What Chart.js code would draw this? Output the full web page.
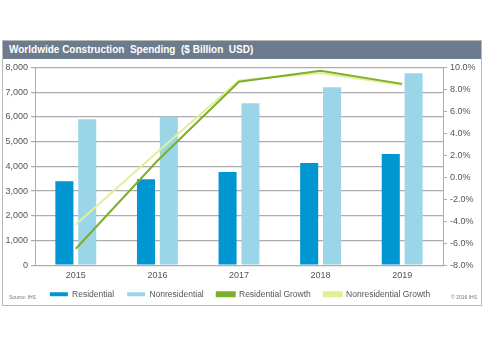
<!DOCTYPE html>
<html>
<head>
<meta charset="utf-8">
<script src="https://cdn.jsdelivr.net/npm/chart.js@4"></script>
<style>
	body { margin: 0; background: #fff; font-family: Arial, "Liberation Sans", sans-serif; }
	#frame { position: absolute; left: 2px; top: 40px; width: 478px; height: 264px; border: 1px solid #b8b8b8; }
	#title { height: 18px; background: #6c7b8d; color: #fff; font-weight: bold; font-size: 10px; line-height: 18px; padding-left: 6px; }
	#wrap { position: relative; width: 478px; height: 246px; }
	.foot { position: absolute; top: 253px; font-size: 5px; color: #777; }
</style>
</head>
<body>
<div id="frame">
	<div id="title">Worldwide Construction&nbsp; Spending&nbsp; ($ Billion&nbsp; USD)</div>
	<div id="wrap"><canvas id="spend-viz"></canvas></div>
	<div class="foot" style="left:6px;">Source: IHS</div>
	<div class="foot" style="right:4px;">© 2016 IHS</div>
</div>
<script>
// values
var years = [ '2015', '2016', '2017', '2018', '2019' ];
var residential    = [ 3400, 3480, 3770, 4130, 4500 ];
var nonresidential = [ 5900, 6000, 6550, 7200, 7760 ];
var res_growth     = [ -6.5, 1.5, 8.7, 9.7, 8.5 ];
var nonres_growth  = [ -4.3, 2.3, 8.8, 9.5, 8.4 ];

var left_ticks  = { min: 0,  max: 8000, step: 1000 };
var right_ticks = { min: -8, max: 10,   step: 2 };

var gridColor = '#adadad';
var txtColor = '#555';
Chart.defaults.font.family = 'Arial, "Liberation Sans", sans-serif';
Chart.defaults.font.size = 9;
Chart.defaults.color = txtColor;

var legendPad = 13;

function make_bar(label, color, data) {
	return { type: 'bar', label: label, backgroundColor: color, borderWidth: 0,
	         data: data, yAxisID: 'y', order: 1,
	         categoryPercentage: 0.56, barPercentage: 0.79 };
}
function make_line(label, color, data) {
	return { type: 'line', label: label, borderColor: color, backgroundColor: color,
	         borderWidth: 2, pointRadius: 0, tension: 0, fill: false,
	         data: data, yAxisID: 'y1', order: 0 };
}

// short legend strip with wide gaps between items, like the original
var legendHeight = {
	id: 'legendHeight',
	beforeInit: function(chart) {
		var origFit = chart.legend.fit;
		chart.legend.fit = function() {
			origFit.call(this);
			this.height = 18;
		};
	},
	afterLayout: function(chart) {
		// move only the top up, so the legend's clip box still holds the text
		chart.legend.top -= (legendPad - 4);
	}
};

var ctx = document.getElementById('spend-viz');
var cfg = {
	data: {
		labels: years,
		datasets: [
			make_bar('Residential', '#0096d1', residential),
			make_bar('Nonresidential', '#9bd5e8', nonresidential),
			make_line('Residential Growth', '#7cb02c', res_growth),
			make_line('Nonresidential Growth', '#e2ef96', nonres_growth)
		]
	},
	options: {
		responsive: true,
		maintainAspectRatio: false,
		animation: false,
		layout: { padding: { left: 0, right: 4, top: 5, bottom: 1 } },
		plugins: {
			tooltip: { enabled: false },
			legend: {
				position: 'bottom',
				labels: { boxWidth: 18, boxHeight: 4, padding: legendPad, color: txtColor, font: { size: 8.5 },
				          sort: function(a, b) { return a.datasetIndex - b.datasetIndex; } }
			}
		},
		scales: {
			x: {
				grid: { display: false, drawTicks: false },
				border: { color: gridColor, width: 1 },
				ticks: { color: txtColor, padding: 5 }
			},
			y: {
				position: 'left',
				min: left_ticks.min, max: left_ticks.max,
				afterFit: function(s) { s.width = 32; },
				grid: { color: gridColor, lineWidth: 1.2, tickLength: 4 },
				border: { color: gridColor, width: 1 },
				ticks: { stepSize: left_ticks.step, color: txtColor, padding: 3,
				         callback: function(v) { return v.toLocaleString('en-US'); } }
			},
			y1: {
				position: 'right',
				min: right_ticks.min, max: right_ticks.max,
				afterFit: function(s) { s.width = 34; },
				grid: { drawOnChartArea: false, color: gridColor, tickLength: 4 },
				border: { color: gridColor, width: 1 },
				ticks: { stepSize: right_ticks.step, color: txtColor, padding: 3,
				         callback: function(v) { return v.toFixed(1) + '%'; } }
			}
		}
	},
	plugins: [ legendHeight ]
};
new Chart(ctx, cfg);
</script>
</body>
</html>
